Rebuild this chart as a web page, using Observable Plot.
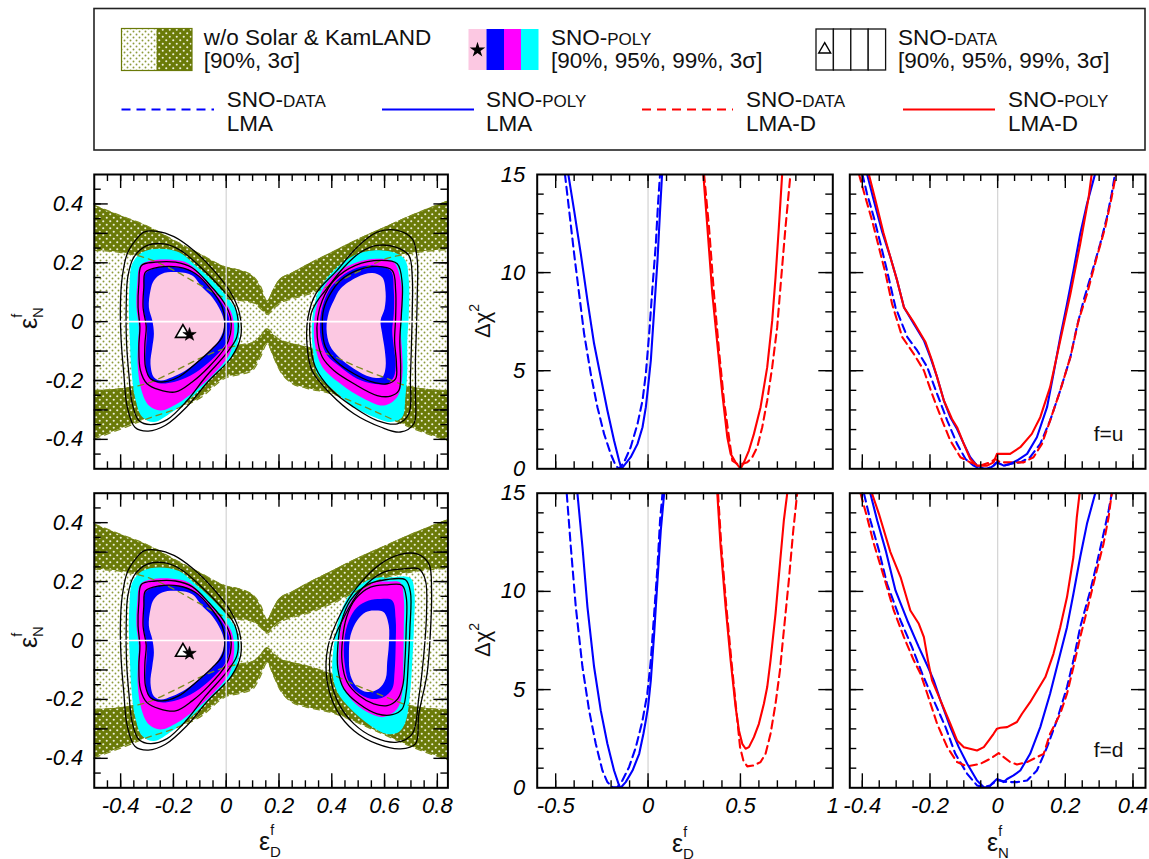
<!DOCTYPE html>
<html><head><meta charset="utf-8">
<script src="https://cdn.jsdelivr.net/npm/d3@7"></script>
<script src="https://cdn.jsdelivr.net/npm/@observablehq/plot@0.6"></script>
<style>
body{margin:0;background:#fff;}
#root{position:relative;width:1149px;height:859px;overflow:hidden;background:#fff;}
.ticklab text{font:italic 22px 'Liberation Sans', Arial, Helvetica, sans-serif !important;fill:#000 !important;}
.notelab text{font:normal 21px 'Liberation Sans', Arial, Helvetica, sans-serif !important;fill:#111 !important;}
</style></head><body><div id="root"></div>
<script>
// ================= DATA =================
// "w/o Solar & KamLAND" band edges (eps_D on x, eps_N on y)
const bandX     = [-0.5,-0.4,-0.3,-0.2,-0.1,0,0.05,0.1,0.13,0.155,0.18,0.2,0.25,0.3,0.4,0.5,0.6,0.7,0.84];
const band3sTop = [0.395,0.36,0.325,0.277,0.23,0.185,0.175,0.155,0.12,0.07,0.11,0.14,0.165,0.19,0.235,0.28,0.32,0.36,0.41];
const band90Top = [0.242,0.235,0.215,0.175,0.125,0.08,0.072,0.065,0.045,0.025,0.045,0.06,0.078,0.09,0.125,0.17,0.212,0.232,0.245];
const band90Bot = [-0.234,-0.228,-0.21,-0.17,-0.125,-0.09,-0.08,-0.072,-0.05,-0.025,-0.045,-0.06,-0.075,-0.085,-0.115,-0.155,-0.19,-0.222,-0.235];
const band3sBot = [-0.398,-0.365,-0.33,-0.30,-0.26,-0.19,-0.18,-0.165,-0.12,-0.075,-0.12,-0.16,-0.21,-0.225,-0.245,-0.28,-0.32,-0.36,-0.405];

// SNO-POLY filled regions (3sigma, 99, 95, 90) and SNO-DATA contours, left lobe (both rows)
const LL_cyan = [[-0.356,0.197],[-0.318,0.236],[-0.255,0.248],[-0.179,0.236],[-0.116,0.191],[-0.053,0.140],[0.004,0.083],[0.041,0.032],[0.051,-0.018],[0.041,-0.081],[0.010,-0.132],[-0.053,-0.188],[-0.129,-0.256],[-0.205,-0.307],[-0.274,-0.341],[-0.318,-0.324],[-0.346,-0.256],[-0.359,-0.166],[-0.365,-0.064],[-0.369,0.038],[-0.366,0.129]];
const LL_magenta = [[-0.325,0.191],[-0.281,0.208],[-0.205,0.210],[-0.142,0.197],[-0.078,0.140],[-0.022,0.083],[0.016,0.038],[0.030,-0.013],[0.026,-0.069],[0.010,-0.115],[-0.053,-0.183],[-0.116,-0.234],[-0.186,-0.279],[-0.249,-0.302],[-0.293,-0.285],[-0.321,-0.234],[-0.335,-0.154],[-0.334,-0.075],[-0.331,-0.018],[-0.340,0.049],[-0.337,0.129]];
const LL_blue = [[-0.306,0.163],[-0.262,0.183],[-0.192,0.185],[-0.135,0.174],[-0.078,0.129],[-0.028,0.078],[0.004,0.032],[0.014,-0.013],[0.007,-0.058],[-0.015,-0.092],[-0.072,-0.143],[-0.135,-0.183],[-0.198,-0.205],[-0.255,-0.209],[-0.293,-0.189],[-0.306,-0.143],[-0.303,-0.075],[-0.300,-0.018],[-0.312,0.038],[-0.312,0.106]];
const LL_pink = [[-0.274,0.140],[-0.243,0.163],[-0.180,0.168],[-0.129,0.157],[-0.091,0.117],[-0.053,0.083],[-0.022,0.038],[-0.009,0.004],[-0.011,-0.030],[-0.028,-0.064],[-0.059,-0.098],[-0.104,-0.132],[-0.154,-0.166],[-0.205,-0.189],[-0.249,-0.200],[-0.274,-0.189],[-0.287,-0.143],[-0.280,-0.087],[-0.274,-0.041],[-0.280,0.004],[-0.293,0.049],[-0.287,0.106]];
const LL_k90 = [[-0.306,0.168],[-0.255,0.185],[-0.180,0.185],[-0.116,0.163],[-0.060,0.112],[-0.015,0.049],[-0.005,-0.001],[-0.015,-0.053],[-0.053,-0.092],[-0.116,-0.143],[-0.180,-0.188],[-0.243,-0.205],[-0.287,-0.194],[-0.306,-0.154],[-0.308,-0.075],[-0.303,-0.018],[-0.315,0.049],[-0.312,0.117]];
const LL_k95 = [[-0.321,0.191],[-0.268,0.202],[-0.192,0.202],[-0.129,0.183],[-0.066,0.129],[-0.009,0.066],[0.016,0.015],[0.016,-0.041],[-0.003,-0.086],[-0.066,-0.154],[-0.129,-0.205],[-0.192,-0.239],[-0.255,-0.231],[-0.300,-0.211],[-0.325,-0.166],[-0.331,-0.086],[-0.327,-0.018],[-0.334,0.049],[-0.331,0.129]];
const LL_k99 = [[-0.299,0.259],[-0.236,0.264],[-0.173,0.242],[-0.097,0.185],[-0.022,0.117],[0.028,0.061],[0.045,0.004],[0.040,-0.053],[0.000,-0.109],[-0.079,-0.189],[-0.148,-0.268],[-0.224,-0.333],[-0.287,-0.350],[-0.331,-0.336],[-0.356,-0.279],[-0.369,-0.177],[-0.378,-0.064],[-0.379,0.049],[-0.373,0.151],[-0.350,0.219]];
const LL_k3s = [[-0.344,0.276],[-0.312,0.304],[-0.262,0.307],[-0.198,0.289],[-0.123,0.242],[-0.047,0.174],[0.016,0.100],[0.050,0.030],[0.055,-0.050],[0.020,-0.121],[-0.070,-0.205],[-0.150,-0.290],[-0.230,-0.352],[-0.295,-0.372],[-0.345,-0.360],[-0.375,-0.290],[-0.388,-0.177],[-0.398,-0.064],[-0.401,0.049],[-0.394,0.151],[-0.375,0.231]];

// right lobe, top row (f=u)
const RT_cyan = [[0.559,0.242],[0.648,0.231],[0.679,0.208],[0.692,0.140],[0.692,0.027],[0.686,-0.064],[0.686,-0.166],[0.679,-0.256],[0.667,-0.324],[0.623,-0.341],[0.559,-0.324],[0.484,-0.290],[0.408,-0.234],[0.345,-0.177],[0.330,-0.109],[0.324,-0.030],[0.330,0.038],[0.351,0.106],[0.408,0.174],[0.484,0.225]];
const RT_magenta = [[0.496,0.202],[0.572,0.214],[0.635,0.202],[0.661,0.140],[0.667,0.049],[0.661,-0.030],[0.667,-0.109],[0.667,-0.188],[0.648,-0.256],[0.597,-0.285],[0.522,-0.262],[0.433,-0.211],[0.364,-0.154],[0.338,-0.086],[0.332,-0.018],[0.342,0.049],[0.370,0.117],[0.421,0.168]];
const RT_blue = [[0.496,0.183],[0.559,0.191],[0.623,0.174],[0.635,0.106],[0.635,0.027],[0.629,-0.030],[0.635,-0.086],[0.642,-0.143],[0.635,-0.188],[0.610,-0.211],[0.559,-0.211],[0.496,-0.194],[0.433,-0.154],[0.383,-0.115],[0.360,-0.064],[0.355,-0.007],[0.364,0.049],[0.389,0.106],[0.433,0.151]];
const RT_pink = [[0.433,0.112],[0.496,0.151],[0.553,0.165],[0.591,0.151],[0.604,0.100],[0.600,0.044],[0.585,0.004],[0.591,-0.041],[0.601,-0.098],[0.604,-0.154],[0.591,-0.188],[0.547,-0.188],[0.484,-0.160],[0.427,-0.120],[0.393,-0.081],[0.380,-0.024],[0.389,0.032],[0.408,0.072]];
const RT_k90 = [[0.496,0.174],[0.572,0.188],[0.629,0.174],[0.642,0.106],[0.642,0.015],[0.638,-0.064],[0.645,-0.143],[0.642,-0.194],[0.610,-0.211],[0.553,-0.205],[0.484,-0.177],[0.421,-0.138],[0.376,-0.086],[0.364,-0.018],[0.370,0.044],[0.395,0.095],[0.433,0.140]];
const RT_k95 = [[0.490,0.191],[0.585,0.208],[0.648,0.197],[0.667,0.129],[0.664,0.027],[0.658,-0.064],[0.661,-0.166],[0.654,-0.234],[0.623,-0.253],[0.572,-0.251],[0.484,-0.211],[0.408,-0.166],[0.364,-0.120],[0.345,-0.052],[0.347,0.015],[0.364,0.072],[0.408,0.140]];
const RT_k99 = [[0.572,0.259],[0.642,0.253],[0.692,0.225],[0.705,0.151],[0.705,0.038],[0.702,-0.075],[0.698,-0.189],[0.692,-0.313],[0.648,-0.347],[0.572,-0.336],[0.484,-0.291],[0.401,-0.234],[0.338,-0.155],[0.318,-0.064],[0.322,0.027],[0.345,0.070],[0.376,0.106],[0.446,0.185],[0.509,0.236]];
const RT_k3s = [[0.572,0.304],[0.648,0.310],[0.705,0.281],[0.724,0.208],[0.724,0.095],[0.721,-0.019],[0.717,-0.132],[0.717,-0.245],[0.711,-0.347],[0.660,-0.375],[0.585,-0.358],[0.484,-0.313],[0.395,-0.245],[0.325,-0.166],[0.306,-0.075],[0.310,0.015],[0.340,0.095],[0.420,0.174],[0.496,0.253]];

// right lobe, bottom row (f=d)
const RB_cyan = [[0.623,0.215],[0.698,0.212],[0.713,0.164],[0.711,0.040],[0.705,-0.073],[0.696,-0.187],[0.679,-0.277],[0.654,-0.311],[0.610,-0.317],[0.547,-0.289],[0.471,-0.232],[0.421,-0.175],[0.402,-0.107],[0.408,-0.017],[0.427,0.074],[0.465,0.153],[0.522,0.198],[0.572,0.213]];
const RB_magenta = [[0.610,0.200],[0.660,0.196],[0.673,0.141],[0.673,0.040],[0.671,-0.073],[0.667,-0.175],[0.648,-0.232],[0.597,-0.260],[0.547,-0.249],[0.490,-0.215],[0.446,-0.164],[0.427,-0.096],[0.427,-0.017],[0.439,0.062],[0.471,0.130],[0.522,0.181],[0.572,0.200]];
const RB_blue = [[0.585,0.141],[0.629,0.136],[0.642,0.074],[0.642,-0.017],[0.638,-0.107],[0.629,-0.164],[0.597,-0.192],[0.547,-0.198],[0.496,-0.175],[0.465,-0.141],[0.448,-0.073],[0.448,0.006],[0.465,0.068],[0.496,0.113],[0.540,0.136]];
const RB_pink = [[0.559,0.102],[0.597,0.096],[0.616,0.051],[0.616,-0.017],[0.610,-0.073],[0.604,-0.130],[0.578,-0.164],[0.534,-0.175],[0.496,-0.158],[0.471,-0.119],[0.465,-0.051],[0.471,0.017],[0.496,0.068],[0.528,0.096]];
const RB_k90 = [[0.610,0.189],[0.667,0.187],[0.683,0.141],[0.682,0.040],[0.677,-0.073],[0.669,-0.153],[0.650,-0.198],[0.610,-0.221],[0.559,-0.215],[0.503,-0.187],[0.458,-0.141],[0.439,-0.073],[0.441,0.006],[0.456,0.079],[0.490,0.141],[0.547,0.181]];
const RB_k95 = [[0.610,0.207],[0.679,0.206],[0.698,0.164],[0.696,0.040],[0.690,-0.073],[0.682,-0.175],[0.667,-0.232],[0.629,-0.252],[0.572,-0.249],[0.503,-0.215],[0.446,-0.164],[0.423,-0.096],[0.423,-0.017],[0.436,0.062],[0.471,0.136],[0.534,0.189]];
const RB_k99 = [[0.673,0.243],[0.730,0.243],[0.755,0.204],[0.759,0.090],[0.749,-0.045],[0.730,-0.193],[0.705,-0.317],[0.648,-0.345],[0.559,-0.328],[0.484,-0.283],[0.427,-0.215],[0.395,-0.125],[0.398,-0.023],[0.446,0.079],[0.509,0.170],[0.597,0.232]];
const RB_k3s = [[0.660,0.292],[0.723,0.294],[0.768,0.260],[0.778,0.170],[0.774,0.034],[0.761,-0.113],[0.730,-0.249],[0.717,-0.351],[0.660,-0.368],[0.572,-0.351],[0.484,-0.306],[0.420,-0.238],[0.382,-0.136],[0.385,-0.023],[0.433,0.090],[0.496,0.181],[0.585,0.260]];

// best-fit points
const bestPoly = [[-0.139,-0.044]];   // star
const bestData = [[-0.164,-0.039]];   // open triangle

// Delta chi^2 profiles: [eps, dchi2]
const uD_polyLMA  = [[-0.432,15.03],[-0.400,13.16],[-0.364,10.95],[-0.328,8.58],[-0.292,6.37],[-0.256,4.67],[-0.220,2.97],[-0.184,1.44],[-0.157,0.42],[-0.144,0],[-0.130,0.16],[-0.094,0.59],[-0.057,1.27],[-0.030,2.12],[-0.012,3.14],[0.000,4.16],[0.015,5.52],[0.033,8.06],[0.051,10.61],[0.065,13.16],[0.076,15.03]];
const uD_dataLMA  = [[-0.450,15.03],[-0.427,13.16],[-0.400,10.95],[-0.373,8.91],[-0.346,6.88],[-0.310,4.84],[-0.274,3.14],[-0.238,1.78],[-0.202,0.76],[-0.175,0.16],[-0.157,0],[-0.130,0.33],[-0.094,1.10],[-0.057,2.29],[-0.030,3.48],[-0.012,4.84],[0.006,6.88],[0.024,9.25],[0.042,11.46],[0.054,13.50],[0.065,15.03]];
const uD_polyLMAD = [[0.299,15.03],[0.321,12.31],[0.348,8.91],[0.375,6.37],[0.402,3.82],[0.429,1.61],[0.447,0.76],[0.474,0.33],[0.501,0],[0.519,0.33],[0.546,0.93],[0.573,1.78],[0.609,3.14],[0.645,5.18],[0.672,7.55],[0.690,9.76],[0.708,12.31],[0.726,15.03]];
const uD_dataLMAD = [[0.303,15.03],[0.330,12.31],[0.357,8.91],[0.384,6.03],[0.411,3.48],[0.438,1.61],[0.456,0.42],[0.483,0.25],[0.510,0.25],[0.537,0.33],[0.564,0.59],[0.591,1.10],[0.618,2.12],[0.645,3.48],[0.672,5.18],[0.699,7.22],[0.721,9.76],[0.744,12.31],[0.771,15.03]];

const dD_polyLMA  = [[-0.382,14.97],[-0.355,12.26],[-0.328,9.2],[-0.292,6.15],[-0.256,3.94],[-0.220,2.24],[-0.184,0.88],[-0.157,0.12],[-0.148,0],[-0.121,0.29],[-0.084,0.88],[-0.048,1.73],[-0.025,2.75],[-0.012,3.43],[0.000,4.11],[0.015,5.47],[0.033,7.84],[0.051,10.56],[0.069,13.10],[0.087,14.97]];
const dD_dataLMA  = [[-0.440,14.97],[-0.418,12.26],[-0.391,9.2],[-0.355,6.15],[-0.319,3.94],[-0.283,2.24],[-0.247,0.88],[-0.220,0.29],[-0.192,0.03],[-0.166,0.03],[-0.139,0.37],[-0.103,1.05],[-0.066,2.07],[-0.030,3.43],[-0.004,4.79],[0.015,6.49],[0.033,8.86],[0.051,11.24],[0.065,13.61],[0.078,14.97]];
const dD_polyLMAD = [[0.375,14.97],[0.393,12.26],[0.420,9.2],[0.447,6.49],[0.474,4.11],[0.492,2.92],[0.510,2.24],[0.528,1.99],[0.546,2.07],[0.573,2.58],[0.600,3.26],[0.627,4.28],[0.645,5.13],[0.663,6.49],[0.690,8.86],[0.714,11.41],[0.735,13.61],[0.753,14.97]];
const dD_dataLMAD = [[0.379,14.97],[0.397,12.26],[0.424,9.2],[0.451,6.49],[0.476,4.11],[0.498,2.07],[0.516,1.39],[0.537,1.09],[0.573,1.14],[0.609,1.31],[0.636,1.73],[0.663,2.75],[0.690,4.28],[0.714,5.98],[0.735,8.01],[0.762,10.56],[0.786,13.10],[0.807,14.97]];

const uN_polyLMA  = [[-0.386,15.03],[-0.366,13.67],[-0.341,12.06],[-0.317,10.78],[-0.297,9.59],[-0.277,8.23],[-0.248,7.39],[-0.218,6.54],[-0.199,5.69],[-0.179,4.67],[-0.159,3.48],[-0.140,2.63],[-0.120,2.03],[-0.100,1.27],[-0.081,0.59],[-0.061,0.16],[-0.041,0],[-0.026,0],[-0.012,0.16],[-0.002,0.33],[0.018,0.16],[0.037,0.25],[0.057,0.42],[0.087,0.76],[0.116,1.61],[0.146,3.14],[0.165,4.84],[0.185,6.71],[0.205,8.40],[0.224,10.10],[0.244,11.97],[0.264,13.50],[0.288,15.03]];
const uN_polyLMAD = [[-0.381,15.03],[-0.361,13.67],[-0.338,12.06],[-0.317,10.78],[-0.297,9.59],[-0.277,8.23],[-0.248,7.47],[-0.213,6.45],[-0.194,5.52],[-0.179,4.67],[-0.159,3.48],[-0.135,2.54],[-0.120,2.12],[-0.100,1.27],[-0.081,0.50],[-0.061,0.16],[-0.031,0.16],[-0.012,0.33],[-0.002,0.76],[0.008,0.76],[0.037,0.76],[0.067,1.10],[0.101,1.78],[0.126,2.63],[0.155,4.16],[0.185,6.54],[0.215,8.91],[0.244,11.46],[0.269,13.84],[0.278,15.03]];
const uN_dataLMA  = [[-0.400,15.03],[-0.386,14.01],[-0.366,12.82],[-0.346,11.46],[-0.327,10.10],[-0.302,8.23],[-0.267,6.71],[-0.238,6.03],[-0.208,5.18],[-0.179,3.82],[-0.149,2.46],[-0.120,1.27],[-0.095,0.50],[-0.071,0.16],[-0.051,0],[-0.031,0],[-0.012,0.16],[-0.002,0.33],[0.018,0.16],[0.037,0.25],[0.067,0.33],[0.096,0.59],[0.126,1.27],[0.155,2.46],[0.185,3.99],[0.215,5.69],[0.234,7.22],[0.254,8.58],[0.283,10.27],[0.303,11.46],[0.323,12.82],[0.337,14.01],[0.347,15.03]];
const uN_dataLMAD = [[-0.410,15.03],[-0.391,13.84],[-0.371,12.65],[-0.351,11.29],[-0.331,9.93],[-0.312,8.40],[-0.282,6.71],[-0.248,5.86],[-0.218,5.01],[-0.194,3.82],[-0.164,2.46],[-0.140,1.44],[-0.110,0.59],[-0.081,0.33],[-0.051,0.16],[-0.022,0.33],[-0.007,0.50],[0.008,0.33],[0.047,0.33],[0.077,0.33],[0.106,0.59],[0.131,1.27],[0.155,2.46],[0.185,3.99],[0.215,5.69],[0.239,7.55],[0.264,8.91],[0.293,10.78],[0.318,12.31],[0.337,13.84],[0.350,15.03]];

const dN_polyLMAD = [[-0.371,14.97],[-0.351,13.95],[-0.317,12.00],[-0.287,10.73],[-0.258,9.03],[-0.233,8.35],[-0.218,7.67],[-0.206,6.49],[-0.194,5.47],[-0.169,4.45],[-0.140,3.26],[-0.120,2.41],[-0.100,2.07],[-0.061,1.90],[-0.041,2.07],[-0.026,2.41],[-0.012,2.75],[-0.002,3.01],[0.008,3.06],[0.028,3.09],[0.057,3.35],[0.072,3.77],[0.096,4.36],[0.141,5.64],[0.165,6.82],[0.185,8.18],[0.205,9.71],[0.224,11.75],[0.234,13.78],[0.242,14.97]];
const dN_polyLMA  = [[-0.376,14.97],[-0.356,13.61],[-0.331,12.09],[-0.302,10.05],[-0.267,8.52],[-0.233,7.16],[-0.206,6.15],[-0.189,5.47],[-0.169,4.45],[-0.140,3.09],[-0.115,2.07],[-0.090,1.22],[-0.061,0.37],[-0.041,0.03],[-0.026,0.03],[-0.017,0.20],[-0.002,0.45],[0.008,0.37],[0.018,0.29],[0.028,0.45],[0.047,0.63],[0.067,0.88],[0.096,1.73],[0.126,3.09],[0.155,4.79],[0.185,6.82],[0.205,8.18],[0.224,9.88],[0.244,11.75],[0.264,13.44],[0.288,14.97]];
const dN_dataLMA  = [[-0.395,14.97],[-0.376,13.61],[-0.351,12.09],[-0.327,10.39],[-0.287,8.52],[-0.253,7.16],[-0.223,5.81],[-0.189,4.45],[-0.154,3.09],[-0.125,1.73],[-0.090,0.71],[-0.061,0.12],[-0.041,0.03],[-0.022,0.12],[-0.002,0.37],[0.008,0.37],[0.028,0.29],[0.057,0.29],[0.087,0.37],[0.116,0.88],[0.146,2.07],[0.175,3.43],[0.205,5.13],[0.224,6.49],[0.244,8.18],[0.274,10.05],[0.293,11.41],[0.313,12.93],[0.328,14.12],[0.337,14.97]];
const dN_dataLMAD = [[-0.405,14.97],[-0.386,13.78],[-0.366,12.43],[-0.336,10.73],[-0.307,9.03],[-0.277,7.67],[-0.248,6.49],[-0.228,5.81],[-0.208,4.79],[-0.179,3.26],[-0.149,2.07],[-0.120,1.31],[-0.090,1.09],[-0.051,1.22],[-0.022,1.48],[-0.007,1.65],[0.003,1.77],[0.018,1.56],[0.037,1.31],[0.057,1.19],[0.087,1.31],[0.116,1.56],[0.136,1.73],[0.155,2.75],[0.185,3.77],[0.205,4.79],[0.224,6.15],[0.244,7.67],[0.269,9.37],[0.293,11.07],[0.313,12.43],[0.328,13.78],[0.337,14.97]];

// tick labels
const leftXLabels = [-0.4,-0.2,0,0.2,0.4,0.6,0.8];
const leftYLabels = [-0.4,-0.2,0,0.2,0.4];
const midXLabels  = [-0.5,0,0.5,1];
const chiYLabels  = [0,5,10,15];
const rightXLabels = [-0.4,-0.2,0,0.2,0.4];

// legend text
const patchTitles = [["w/o Solar & KamLAND",""],["SNO-","POLY"],["SNO-","DATA"]];
const patchLevels = ["[90%, 3σ]","[90%, 95%, 99%, 3σ]","[90%, 95%, 99%, 3σ]"];
const lineItems = [
  {caps:"DATA", sub:"LMA",   color:"#0000ff", dashed:true},
  {caps:"POLY", sub:"LMA",   color:"#0000ff", dashed:false},
  {caps:"DATA", sub:"LMA-D", color:"#ff0000", dashed:true},
  {caps:"POLY", sub:"LMA-D", color:"#ff0000", dashed:false}
];

// ================= RENDER =================
const FONT = "'Liberation Sans', Arial, Helvetica, sans-serif";
const OLIVE = "#6a7a08", OLIVE_DASH = "#7d8c1c";
const lobeColors = ["#00ffff","#ff00ff","#0000ff","#fcc8e2"];
const DEFS = `
<pattern id="darkDots" patternUnits="userSpaceOnUse" width="7" height="7">
  <rect width="7" height="7" fill="${OLIVE}"/>
  <circle cx="1.75" cy="1.75" r="1.05" fill="#eef0dc"/>
  <circle cx="5.25" cy="5.25" r="1.05" fill="#eef0dc"/>
</pattern>
<pattern id="lightDots" patternUnits="userSpaceOnUse" width="6" height="6">
  <rect width="6" height="6" fill="#ffffff"/>
  <circle cx="1.5" cy="1.5" r="0.95" fill="#8d9b3c"/>
  <circle cx="4.5" cy="4.5" r="0.95" fill="#8d9b3c"/>
</pattern>`;
const baseStyle = `background:transparent;font-family:${FONT};overflow:visible;`;
const TF = {fontSize:22, fontStyle:"italic", fontFamily:FONT, fill:"#000", className:"ticklab"};
const fmt = d => String(d);
const root = document.getElementById("root");
const bandRows = bandX.map((x,i) => ({x, t3:band3sTop[i], t90:band90Top[i], b90:band90Bot[i], b3:band3sBot[i]}));
const r3 = v => Math.round(v*1000)/1000;

function place(svg, left, top){
  svg.style.position = "absolute"; svg.style.left = left+"px"; svg.style.top = top+"px";
  d3.select(svg).insert("defs", ":first-child").html(DEFS);
  root.appendChild(svg);
}
function frameTicks(W, H, xMinor, xMajor, yMinor, yMajor){
  const st = {stroke:"#000", strokeWidth:1.4};
  const m = [];
  for (const [arr,len] of [[xMinor,7],[xMajor,14]]) {
    m.push(Plot.tickX(arr, {x:d=>d, ...st, insetTop:H-len}));
    m.push(Plot.tickX(arr, {x:d=>d, ...st, insetBottom:H-len}));
  }
  for (const [arr,len] of [[yMinor,7],[yMajor,14]]) {
    m.push(Plot.tickY(arr, {y:d=>d, ...st, insetLeft:W-len}));
    m.push(Plot.tickY(arr, {y:d=>d, ...st, insetRight:W-len}));
  }
  return m;
}
const yTickText = (labels, pad) => Plot.text(labels, {y:d=>d, text:fmt, frameAnchor:"left", textAnchor:"end", dx:-pad, ...TF});
const xTickText = (labels, pad) => Plot.text(labels, {x:d=>d, text:fmt, frameAnchor:"bottom", lineAnchor:"top", dy:pad, ...TF});

// ---- left panels ----
function leftPanel({top, height, mT, mB, lobes, xLabels}){
  const mL = 93.75, mR = 12.6, W = 460-mL-mR, H = height-mT-mB;
  const P = {x:d=>d[0], y:d=>d[1], clip:true, curve:"catmull-rom-closed"};
  const marks = [
    Plot.areaY(bandRows, {x:"x", y1:"b3", y2:"t3", fill:"url(#darkDots)", curve:"monotone-x", clip:true}),
    Plot.areaY(bandRows, {x:"x", y1:"b90", y2:"t90", fill:"url(#lightDots)", curve:"monotone-x", clip:true})
  ];
  for (const lobe of lobes) lobe.fills.forEach((arr,i) => marks.push(Plot.line(arr, {...P, fill:lobeColors[i], stroke:"none"})));
  for (const k of ["t3","t90","b90","b3"]) marks.push(Plot.line(bandRows, {x:"x", y:k, curve:"monotone-x", stroke:OLIVE_DASH, strokeWidth:1.3, strokeDasharray:"6,5", clip:true}));
  for (const lobe of lobes) lobe.lines.forEach(arr => marks.push(Plot.line(arr, {...P, stroke:"black", strokeWidth:1.3})));
  marks.push(Plot.ruleX([0], {stroke:"#d6d6d6", strokeWidth:1.3}));
  marks.push(Plot.ruleY([0], {stroke:"white", strokeWidth:1.6}));
  marks.push(Plot.dot(bestData, {x:d=>d[0], y:d=>d[1], symbol:"triangle", r:5.5, fill:"white", stroke:"black", strokeWidth:1.6}));
  marks.push(Plot.dot(bestPoly, {x:d=>d[0], y:d=>d[1], symbol:"star", r:4.2, fill:"black", stroke:"black", strokeWidth:0.6}));
  marks.push(Plot.frame({stroke:"black", strokeWidth:2}));
  marks.push(...frameTicks(W, H, d3.range(-9,17).map(i=>r3(i*0.05)), leftXLabels, d3.range(-9,10).map(i=>r3(i*0.05)), d3.range(-4,5).map(i=>r3(i*0.1))));
  marks.push(yTickText(leftYLabels, 11));
  if (xLabels) marks.push(xTickText(leftXLabels, 10));
  const p = Plot.plot({width:460, height, marginLeft:mL, marginRight:mR, marginTop:mT, marginBottom:mB,
    x:{domain:[-0.5,0.84], axis:null}, y:{domain:[-0.5,0.5], axis:null}, style:baseStyle, marks});
  place(p, 0, top);
}
const lobeL = {fills:[LL_cyan,LL_magenta,LL_blue,LL_pink], lines:[LL_k3s,LL_k99,LL_k95,LL_k90]};
const lobeRT = {fills:[RT_cyan,RT_magenta,RT_blue,RT_pink], lines:[RT_k3s,RT_k99,RT_k95,RT_k90]};
const lobeRB = {fills:[RB_cyan,RB_magenta,RB_blue,RB_pink], lines:[RB_k3s,RB_k99,RB_k95,RB_k90]};
leftPanel({top:160, height:330, mT:14, mB:21.7, lobes:[lobeL,lobeRT], xLabels:false});
leftPanel({top:480, height:379, mT:12.7, mB:71.7, lobes:[lobeL,lobeRB], xLabels:true});

// ---- chi2 panels ----
function chiPanel({left, width, mL, mR, top, height, mT, mB, domain, curves, xMinor, xMajor, xLabels, yLabels, note, noteDy}){
  const W = width-mL-mR, H = height-mT-mB;
  const marks = [Plot.ruleX([0], {stroke:"#d6d6d6", strokeWidth:1.3})];
  for (const c of curves) {
    const o = {x:d=>d[0], y:d=>d[1], stroke:c.color, strokeWidth:2.1, clip:true};
    if (c.dashed) o.strokeDasharray = "8,5";
    marks.push(Plot.line(c.data, o));
  }
  marks.push(Plot.frame({stroke:"black", strokeWidth:2}));
  marks.push(...frameTicks(W, H, xMinor, xMajor, d3.range(1,15), [5,10]));
  if (yLabels) marks.push(yTickText(chiYLabels, 12));
  if (xLabels) marks.push(xTickText(xLabels, 10));
  if (note) marks.push(Plot.text([note], {text:d=>d, frameAnchor:"bottom-right", textAnchor:"end", dx:-22, dy:noteDy, fontStyle:"normal", fontSize:21, fontFamily:FONT, fill:"#111", className:"notelab"}));
  const p = Plot.plot({width, height, marginLeft:mL, marginRight:mR, marginTop:mT, marginBottom:mB,
    x:{domain, axis:null}, y:{domain:[0,15], axis:null}, style:baseStyle, marks});
  place(p, left, top);
}
const blueD = d => ({data:d, color:"#0000ff", dashed:true});
const blueS = d => ({data:d, color:"#0000ff", dashed:false});
const redD  = d => ({data:d, color:"#ff0000", dashed:true});
const redS  = d => ({data:d, color:"#ff0000", dashed:false});
const midMinor = d3.range(-5,10).map(i=>r3(i*0.1));
const rightMinor = d3.range(-8,9).map(i=>r3(i*0.05));
chiPanel({left:460, width:400, mL:76.7, mR:27.7, top:160, height:330, mT:14, mB:21.7, domain:[-0.6,1],
  curves:[blueD(uD_dataLMA), blueS(uD_polyLMA), redD(uD_dataLMAD), redS(uD_polyLMAD)],
  xMinor:midMinor, xMajor:[-0.5,0,0.5], xLabels:null, yLabels:true});
chiPanel({left:460, width:400, mL:76.7, mR:27.7, top:480, height:379, mT:12.7, mB:71.7, domain:[-0.6,1],
  curves:[blueD(dD_dataLMA), blueS(dD_polyLMA), redD(dD_dataLMAD), redS(dD_polyLMAD)],
  xMinor:midMinor, xMajor:[-0.5,0,0.5], xLabels:midXLabels, yLabels:true});
chiPanel({left:840, width:309, mL:9.3, mR:4, top:160, height:330, mT:14, mB:21.7, domain:[-0.437,0.437],
  curves:[blueD(uN_dataLMA), redD(uN_dataLMAD), blueS(uN_polyLMA), redS(uN_polyLMAD)],
  xMinor:rightMinor, xMajor:[-0.4,-0.2,0,0.2,0.4], xLabels:null, yLabels:false, note:"f=u", noteDy:-28});
chiPanel({left:840, width:309, mL:9.3, mR:4, top:480, height:379, mT:12.7, mB:71.7, domain:[-0.437,0.437],
  curves:[blueD(dN_dataLMA), redD(dN_dataLMAD), blueS(dN_polyLMA), redS(dN_polyLMAD)],
  xMinor:rightMinor, xMajor:[-0.4,-0.2,0,0.2,0.4], xLabels:rightXLabels, yLabels:false, note:"f=d", noteDy:-31});

// ---- overlay: legend + axis titles ----
const ov = d3.select(root).append("svg").attr("width",1149).attr("height",859)
  .style("position","absolute").style("left","0px").style("top","0px").style("overflow","visible");
ov.append("defs").html(DEFS);
const lg = ov.append("g").attr("font-family",FONT).attr("font-size",22.5).attr("fill","#111");
lg.append("rect").attr("x",94).attr("y",8.5).attr("width",1051).attr("height",141.5)
  .attr("fill","white").attr("stroke","#222").attr("stroke-width",1.6);
// patch 1
lg.append("rect").attr("x",121.5).attr("y",28.5).attr("width",35).attr("height",42).attr("fill","url(#lightDots)");
lg.append("rect").attr("x",156.5).attr("y",28.5).attr("width",35.5).attr("height",42).attr("fill","url(#darkDots)");
lg.append("rect").attr("x",121.5).attr("y",28.5).attr("width",70.5).attr("height",42).attr("fill","none").attr("stroke",OLIVE).attr("stroke-width",1.2);
// patch 2
const p2x = [468.5,486.5,504,521,538.5];
lobeColors.slice().reverse().forEach((c,i) => lg.append("rect").attr("x",p2x[i]).attr("y",29).attr("width",p2x[i+1]-p2x[i]).attr("height",41).attr("fill",c));
lg.append("path").attr("d", d3.symbol(d3.symbolStar, 75)()).attr("transform","translate(477.5,50)").attr("fill","black");
// patch 3
for (let i=0;i<4;i++) lg.append("rect").attr("x",816+i*17.4).attr("y",29).attr("width",17.4).attr("height",41).attr("fill","white").attr("stroke","#111").attr("stroke-width",1.3);
lg.append("path").attr("d", d3.symbol(d3.symbolTriangle, 62)()).attr("transform","translate(824.7,49.5)").attr("fill","white").attr("stroke","black").attr("stroke-width",1.4);
function scText(x, y, pre, caps){
  const t = lg.append("text").attr("x",x).attr("y",y);
  t.append("tspan").text(pre);
  if (caps) t.append("tspan").attr("font-size",17).text(caps);
}
const patchTextX = [203.7, 551, 898];
patchTitles.forEach((t,i) => { scText(patchTextX[i], 45, t[0], t[1]); lg.append("text").attr("x",patchTextX[i]).attr("y",68).text(patchLevels[i]); });
const lineX = [[121.5,214,226.7],[382,474,486],[642,733,746],[903,995,1008]];
lineItems.forEach((it,i) => {
  const [x1,x2,tx] = lineX[i];
  const l = lg.append("line").attr("x1",x1).attr("x2",x2).attr("y1",109.5).attr("y2",109.5).attr("stroke",it.color).attr("stroke-width",2.2);
  if (it.dashed) l.attr("stroke-dasharray","9,6");
  scText(tx, 107, "SNO-", it.caps);
  lg.append("text").attr("x",tx).attr("y",130.5).text(it.sub);
});
// axis titles
const at = ov.append("g").attr("font-family",FONT).attr("fill","#111");
function epsLabel(x, y, sub, rotate){
  const t = at.append("text").attr("font-size",25);
  if (rotate) t.attr("transform",`translate(${x},${y}) rotate(-90)`); else t.attr("x",x).attr("y",y);
  t.append("tspan").text("ε");
  t.append("tspan").attr("font-size",14).attr("dy",-15).text("f");
  t.append("tspan").attr("font-size",15).attr("dx",-4).attr("dy",rotate?21:22).text(sub);
}
epsLabel(37, 329, "N", true);
epsLabel(37, 648, "N", true);
epsLabel(259, 850, "D", false);
epsLabel(672, 852, "D", false);
epsLabel(987, 851, "N", false);
function chiLabel(x, y){
  const t = at.append("text").attr("font-size",22).attr("transform",`translate(${x},${y}) rotate(-90)`);
  t.append("tspan").text("Δχ");
  t.append("tspan").attr("font-size",14).attr("dy",-11).text("2");
}
chiLabel(490, 338);
chiLabel(490, 657);
</script></body></html>
